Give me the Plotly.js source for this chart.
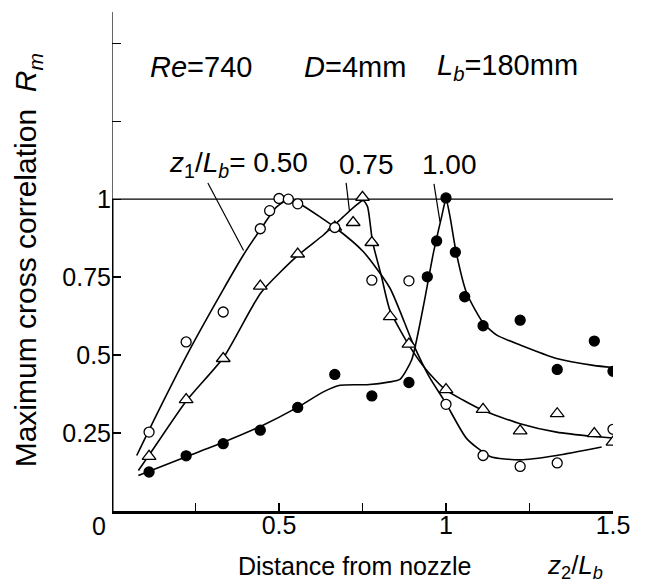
<!DOCTYPE html>
<html>
<head>
<meta charset="utf-8">
<script src="https://cdn.plot.ly/plotly-3.0.1.min.js"></script>
<style>html,body{margin:0;padding:0;background:#fff;}#chart{width:645px;height:583px;}</style>
</head>
<body>
<div id="chart"></div>
<script>
// measured points, z1/Lb = 0.50 (open circles)
const x050 = [0.111, 0.222, 0.333, 0.444, 0.472, 0.500, 0.528, 0.556, 0.667, 0.778, 0.889, 1.000, 1.111, 1.222, 1.333, 1.500];
const y050 = [0.253, 0.542, 0.638, 0.905, 0.963, 1.002, 1.000, 0.985, 0.909, 0.740, 0.738, 0.342, 0.178, 0.143, 0.154, 0.262];
// z1/Lb = 0.75 (open triangles)
const x075 = [0.111, 0.222, 0.333, 0.444, 0.556, 0.667, 0.722, 0.750, 0.778, 0.833, 0.889, 1.000, 1.111, 1.222, 1.333, 1.444, 1.500];
const y075 = [0.175, 0.357, 0.489, 0.721, 0.824, 0.910, 0.925, 1.006, 0.861, 0.623, 0.535, 0.389, 0.326, 0.257, 0.312, 0.248, 0.221];
// z1/Lb = 1.00 (filled circles)
const x100 = [0.111, 0.222, 0.333, 0.444, 0.556, 0.667, 0.778, 0.889, 0.944, 0.972, 1.000, 1.028, 1.056, 1.111, 1.222, 1.333, 1.444, 1.500];
const y100 = [0.125, 0.177, 0.216, 0.259, 0.332, 0.438, 0.369, 0.412, 0.751, 0.866, 1.004, 0.830, 0.687, 0.594, 0.612, 0.454, 0.545, 0.448];

// fitted curves
const cx050 = [0.074, 0.134, 0.234, 0.333, 0.393, 0.446, 0.493, 0.533, 0.573, 0.668, 0.752, 0.832, 0.900, 0.950, 1.000, 1.062, 1.132, 1.222, 1.331, 1.466];
const cy050 = [0.178, 0.310, 0.520, 0.710, 0.820, 0.905, 0.975, 1.000, 0.978, 0.909, 0.832, 0.715, 0.540, 0.430, 0.345, 0.232, 0.175, 0.164, 0.178, 0.205];
const cx075 = [0.079, 0.114, 0.224, 0.335, 0.446, 0.558, 0.633, 0.693, 0.733, 0.752, 0.765, 0.780, 0.807, 0.832, 0.887, 0.942, 0.998, 1.052, 1.110, 1.222, 1.331, 1.444, 1.501];
const cy075 = [0.130, 0.184, 0.355, 0.494, 0.700, 0.821, 0.885, 0.944, 0.982, 0.996, 0.976, 0.864, 0.751, 0.644, 0.535, 0.451, 0.389, 0.355, 0.323, 0.280, 0.253, 0.239, 0.234];
const cx100 = [0.079, 0.224, 0.335, 0.446, 0.558, 0.633, 0.683, 0.763, 0.832, 0.862, 0.897, 0.932, 0.962, 0.987, 1.000, 1.012, 1.030, 1.062, 1.112, 1.152, 1.222, 1.331, 1.441, 1.501];
const cy100 = [0.114, 0.175, 0.221, 0.272, 0.334, 0.382, 0.403, 0.405, 0.414, 0.422, 0.484, 0.655, 0.826, 0.944, 1.000, 0.944, 0.832, 0.698, 0.602, 0.564, 0.532, 0.489, 0.467, 0.460];

const xTickVals = [0.25, 0.5, 0.75, 1, 1.25, 1.5];
const xTickText = ['', '0.5', '', '1', '', '1.5'];
const yTickVals = [0.25, 0.5, 0.75, 1, 1.25, 1.5];
const yTickText = ['0.25', '0.5', '0.75', '1', '', ''];

const FONT = '"Liberation Sans", Arial, Helvetica, sans-serif';

function curve(x, y) {
  return {x: x, y: y, mode: 'lines', type: 'scatter', line: {color: '#000', width: 1.6, shape: 'spline', smoothing: 0.6}, hoverinfo: 'skip', showlegend: false};
}
function pts(x, y, sym, fill, size) {
  return {x: x, y: y, mode: 'markers', type: 'scatter', marker: {symbol: sym, size: size, color: fill, line: {color: '#000', width: 1.3}}, showlegend: false};
}

const data = [
  curve(cx050, cy050), curve(cx075, cy075), curve(cx100, cy100),
  pts(x075, y075, 'triangle-up', '#fff', 12),
  pts(x050, y050, 'circle', '#fff', 10),
  pts(x100, y100, 'circle', '#000', 10)
];

const layout = {
  width: 645, height: 583,
  margin: {l: 112, r: 32, t: 12, b: 72},
  paper_bgcolor: '#fff', plot_bgcolor: '#fff',
  font: {family: FONT, color: '#000', size: 25},
  xaxis: {range: [0, 1.5], tickvals: xTickVals, ticktext: xTickText, ticks: 'inside', ticklen: 8, tickwidth: 1.2, tickcolor: '#000',
          ticklabelstandoff: -10,
          showline: true, linewidth: 3, linecolor: '#000', showgrid: false, zeroline: false, tickfont: {size: 25}},
  xaxis2: {range: [0, 1.5], overlaying: 'x', side: 'top', tickvals: [0.5, 1, 1.25], ticks: 'inside', ticklen: 10, tickwidth: 1.2, tickcolor: '#000',
           showticklabels: false, showline: true, linewidth: 1.2, linecolor: '#000', showgrid: false, zeroline: false},
  yaxis: {range: [0, 1.6], tickvals: yTickVals, ticktext: yTickText, ticks: 'inside', ticklen: 9, tickwidth: 1.2, tickcolor: '#000',
          showline: false, showgrid: false, zeroline: false, tickfont: {size: 25}},
  yaxis2: {range: [0, 1.6], overlaying: 'y', side: 'right', tickvals: [0.25, 0.5, 0.75, 1.25, 1.5], ticks: 'inside', ticklen: 10, tickwidth: 1.2, tickcolor: '#000',
           showticklabels: false, showline: true, linewidth: 1.2, linecolor: '#000', showgrid: false, zeroline: false},
  shapes: [
    {type: 'line', xref: 'x', yref: 'y', x0: 0, x1: 0, y0: 0, y1: 1, line: {color: '#000', width: 3}},
    {type: 'line', xref: 'x', yref: 'y', x0: 0, x1: 0, y0: 1, y1: 1.6, line: {color: '#000', width: 1.2}},
    {type: 'line', xref: 'x', yref: 'y', x0: 0, x1: 1.5, y0: 1, y1: 1, line: {color: '#000', width: 1.3}, layer: 'below'},
    // leader lines
    {type: 'line', xref: 'x', yref: 'y', x0: 0.287, y0: 1.052, x1: 0.394, y1: 0.835, line: {color: '#000', width: 1.2}},
    {type: 'line', xref: 'x', yref: 'y', x0: 0.701, y0: 1.052, x1: 0.711, y1: 0.962, line: {color: '#000', width: 1.2}},
    {type: 'line', xref: 'x', yref: 'y', x0: 0.964, y0: 1.049, x1: 0.982, y1: 0.927, line: {color: '#000', width: 1.2}}
  ],
  annotations: [
    {xref: 'paper', yref: 'paper', x: -0.026, y: -0.03, text: '0', showarrow: false, xanchor: 'center', yanchor: 'middle', font: {size: 25}},
    {xref: 'paper', yref: 'paper', x: 0.2475, y: -0.111, text: 'Distance from nozzle', showarrow: false, xanchor: 'left', yanchor: 'middle', font: {size: 25}},
    {xref: 'paper', yref: 'paper', x: 0.864, y: -0.111, text: '<i>z</i><sub>2</sub>/<i>L<sub>b</sub></i>', showarrow: false, xanchor: 'left', yanchor: 'middle', font: {size: 26}},
    {xref: 'paper', yref: 'paper', x: -0.168, y: 0.502, text: 'Maximum cross correlation  <i>R<sub>m</sub></i>', textangle: -90, showarrow: false, xanchor: 'center', yanchor: 'middle', font: {size: 30}},
    {xref: 'paper', yref: 'paper', x: 0.072, y: 0.89, text: '<i>Re</i>=740', showarrow: false, xanchor: 'left', yanchor: 'middle', font: {size: 29}},
    {xref: 'paper', yref: 'paper', x: 0.379, y: 0.89, text: '<i>D</i>=4mm', showarrow: false, xanchor: 'left', yanchor: 'middle', font: {size: 29}},
    {xref: 'paper', yref: 'paper', x: 0.644, y: 0.89, text: '<i>L<sub>b</sub></i>=180mm', showarrow: false, xanchor: 'left', yanchor: 'middle', font: {size: 29}},
    {xref: 'paper', yref: 'paper', x: 0.11, y: 0.695, text: '<i>z</i><sub>1</sub>/<i>L<sub>b</sub></i>= 0.50', showarrow: false, xanchor: 'left', yanchor: 'middle', font: {size: 28}},
    {xref: 'paper', yref: 'paper', x: 0.449, y: 0.695, text: '0.75', showarrow: false, xanchor: 'left', yanchor: 'middle', font: {size: 28}},
    {xref: 'paper', yref: 'paper', x: 0.615, y: 0.695, text: '1.00', showarrow: false, xanchor: 'left', yanchor: 'middle', font: {size: 28}}
  ]
};

Plotly.newPlot('chart', data, layout, {staticPlot: true, displayModeBar: false});
</script>
</body>
</html>
